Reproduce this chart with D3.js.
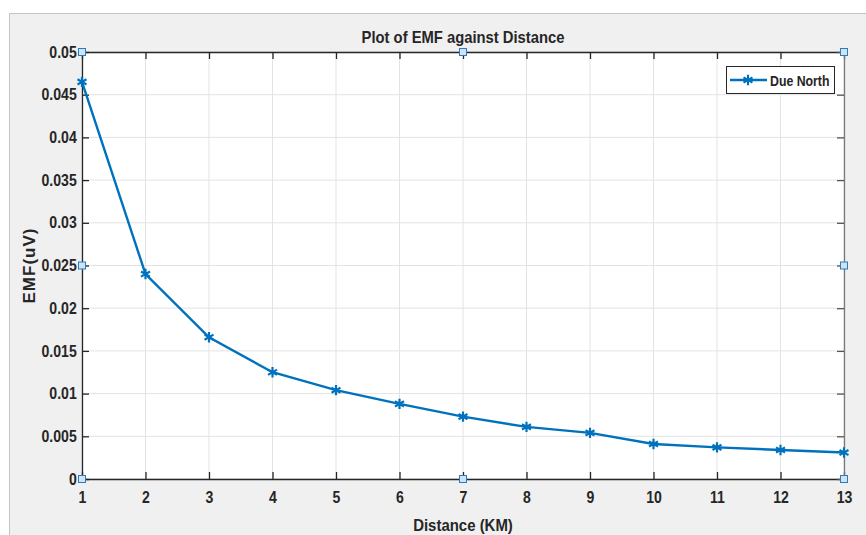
<!DOCTYPE html>
<html>
<head>
<meta charset="utf-8">
<script src="https://cdn.jsdelivr.net/npm/d3@7"></script>
<style>
  body { margin: 0; background: #ffffff; }
  text { font-family: "Liberation Sans", Arial, sans-serif; font-weight: bold; fill: #262626; }
</style>
</head>
<body>
<script>
//chart data
var distance = [1, 2, 3, 4, 5, 6, 7, 8, 9, 10, 11, 12, 13];
var emf = [0.0465, 0.0240, 0.0166, 0.0125, 0.0104, 0.0088, 0.0073, 0.0061, 0.0054, 0.0041, 0.0037, 0.0034, 0.0031];
var yTicks = [0, 0.005, 0.01, 0.015, 0.02, 0.025, 0.03, 0.035, 0.04, 0.045, 0.05];
var seriesName = "Due North";

var w = 866, h = 535;
var pLeft = 82, pTop = 52, pRight = 844, pBottom = 479;

window.onload = function(){
    var svg = d3.select("body").append("svg")
        .attr("width", w)
        .attr("height", h);

    //gray figure panel
    svg.append("rect")
        .attr("x", 9.5).attr("y", 13.5)
        .attr("width", w).attr("height", h)
        .style("fill", "#f0f0f0")
        .style("stroke", "#c4c4c4");

    var x = d3.scaleLinear().domain([1, 13]).range([pLeft, pRight]);
    var y = d3.scaleLinear().domain([0, 0.05]).range([pBottom, pTop]);

    //plot area
    svg.append("rect")
        .attr("x", pLeft).attr("y", pTop)
        .attr("width", pRight - pLeft).attr("height", pBottom - pTop)
        .style("fill", "#ffffff");

    //grid
    svg.append("g").selectAll("line").data(distance).enter().append("line")
        .attr("x1", function(d){ return x(d); }).attr("x2", function(d){ return x(d); })
        .attr("y1", pTop).attr("y2", pBottom)
        .style("stroke", "#e3e3e3");
    svg.append("g").selectAll("line").data(yTicks).enter().append("line")
        .attr("y1", function(d){ return y(d); }).attr("y2", function(d){ return y(d); })
        .attr("x1", pLeft).attr("x2", pRight)
        .style("stroke", "#e3e3e3");

    //axes with inward ticks
    var fmt = function(d){ return d === 0 ? "0" : String(+d.toFixed(3)); };
    var xAxis = svg.append("g").attr("transform", "translate(0," + pBottom + ")")
        .call(d3.axisBottom(x).tickValues(distance).tickSizeInner(-7).tickSizeOuter(0).tickPadding(13));
    var yAxis = svg.append("g").attr("transform", "translate(" + pLeft + ",0)")
        .call(d3.axisLeft(y).tickValues(yTicks).tickFormat(fmt).tickSizeInner(-7).tickSizeOuter(0).tickPadding(6));
    var xTop = svg.append("g").attr("transform", "translate(0," + pTop + ")")
        .call(d3.axisTop(x).tickValues(distance).tickFormat("").tickSizeInner(-7).tickSizeOuter(0));
    var yRight = svg.append("g").attr("transform", "translate(" + pRight + ",0)")
        .call(d3.axisRight(y).tickValues(yTicks).tickFormat("").tickSizeInner(-7).tickSizeOuter(0));

    [xAxis, yAxis, xTop, yRight].forEach(function(g){
        g.selectAll("path").style("stroke", "#262626").style("stroke-width", 1.3);
        g.selectAll("line").style("stroke", "#262626").style("stroke-width", 1.3);
        g.selectAll("text").style("font-size", "16px").style("fill", "#262626")
            .attr("transform", "scale(0.88,1)");
    });
    yRight.select("path").style("stroke", "#7a7a7a");
    yRight.selectAll("line").style("stroke", "#555");

    //title and labels (narrowed like the original font)
    svg.append("text")
        .attr("transform", "translate(" + (pLeft + pRight) / 2 + ",43) scale(0.87,1)")
        .attr("text-anchor", "middle").style("font-size", "17px")
        .text("Plot of EMF against Distance");
    svg.append("text")
        .attr("transform", "translate(" + (pLeft + pRight) / 2 + ",531) scale(0.88,1)")
        .attr("text-anchor", "middle").style("font-size", "17px")
        .text("Distance (KM)");
    svg.append("text")
        .attr("transform", "translate(35," + (pTop + pBottom) / 2 + ") rotate(-90)")
        .attr("text-anchor", "middle").style("font-size", "17px")
        .style("letter-spacing", "1px")
        .text("EMF(uV)");

    //series line
    var line = d3.line()
        .x(function(d, i){ return x(distance[i]); })
        .y(function(d){ return y(d); });
    svg.append("path").datum(emf)
        .attr("d", line)
        .style("fill", "none")
        .style("stroke", "#0072BD")
        .style("stroke-width", 2.4);

    //asterisk markers
    var star = d3.symbol().type(d3.symbolAsterisk).size(75);
    svg.append("g").selectAll("path").data(emf).enter().append("path")
        .attr("d", star)
        .attr("transform", function(d, i){ return "translate(" + x(distance[i]) + "," + y(d) + ")"; })
        .style("fill", "none")
        .style("stroke", "#0072BD")
        .style("stroke-width", 2.2);

    //legend
    var lg = svg.append("g").attr("transform", "translate(726,66)");
    lg.append("rect").attr("x", 0.5).attr("y", 0.5).attr("width", 108).attr("height", 27)
        .style("fill", "#ffffff").style("stroke", "#262626");
    lg.append("line").attr("x1", 4).attr("x2", 41).attr("y1", 14).attr("y2", 14)
        .style("stroke", "#0072BD").style("stroke-width", 2.4);
    lg.append("path").attr("d", star).attr("transform", "translate(22,14)")
        .style("fill", "none").style("stroke", "#0072BD").style("stroke-width", 2.2);
    lg.append("text").attr("transform", "translate(44,20) scale(0.85,1)")
        .style("font-size", "14.5px").text(seriesName);

    //selection handles at corners and edge midpoints
    var hx = [pLeft, (pLeft + pRight) / 2, pRight];
    var hy = [pTop, (pTop + pBottom) / 2, pBottom];
    var handles = [];
    hx.forEach(function(a, i){
        hy.forEach(function(b, j){
            if (!(i === 1 && j === 1)) handles.push([a, b]);
        });
    });
    svg.append("g").selectAll("rect").data(handles).enter().append("rect")
        .attr("x", function(d){ return d[0] - 3.5; })
        .attr("y", function(d){ return d[1] - 3.5; })
        .attr("width", 7).attr("height", 7)
        .style("fill", "#cfe3f5")
        .style("stroke", "#2b7bbf")
        .style("stroke-width", 1);
};
</script>
</body>
</html>
